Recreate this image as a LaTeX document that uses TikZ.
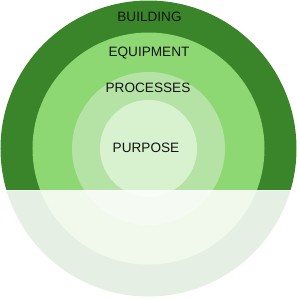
\documentclass[tikz,border=0pt]{standalone}
\usepackage{fontspec}
\setmainfont{Liberation Sans}
\definecolor{cBuild}{HTML}{3A8529}
\definecolor{cEquip}{HTML}{8ED873}
\definecolor{cProc}{HTML}{B5E3A5}
\definecolor{cPurp}{HTML}{D8F2D0}
\definecolor{cText}{HTML}{141414}
\tikzset{
  ring/.style={circle, inner sep=0pt, draw=none},
  lbl/.style={text=cText, font=\fontsize{13.6bp}{15bp}\selectfont, inner sep=0pt, anchor=base}
}
\begin{document}
\begin{tikzpicture}[x=1bp,y=-1bp]
\useasboundingbox (0,0) rectangle (297,300);
\node[ring, fill=cBuild, minimum size=296bp] (building) at (148.5,148.5) {};
\node[ring, fill=cEquip, minimum size=232bp] (equipment) at (148.5,148.5) {};
\node[ring, fill=cProc, minimum size=153bp] (processes) at (148.5,148.5) {};
\node[ring, fill=cPurp, minimum size=97bp] (purpose) at (148.5,148.5) {};
\fill[white, opacity=0.87] (0,190) rectangle (297,300);
\draw[white, opacity=0.5, line width=1bp] (0,190.5) -- (297,190.5);
\node[lbl] (tb) at (149.5,21.4) {BUILDING};
\node[lbl] (te) at (149,56.9) {EQUIPMENT};
\node[lbl] (tp) at (148,92.8) {PROCESSES};
\node[lbl] (tu) at (146,152.2) {PURPOSE};
\end{tikzpicture}
\end{document}
